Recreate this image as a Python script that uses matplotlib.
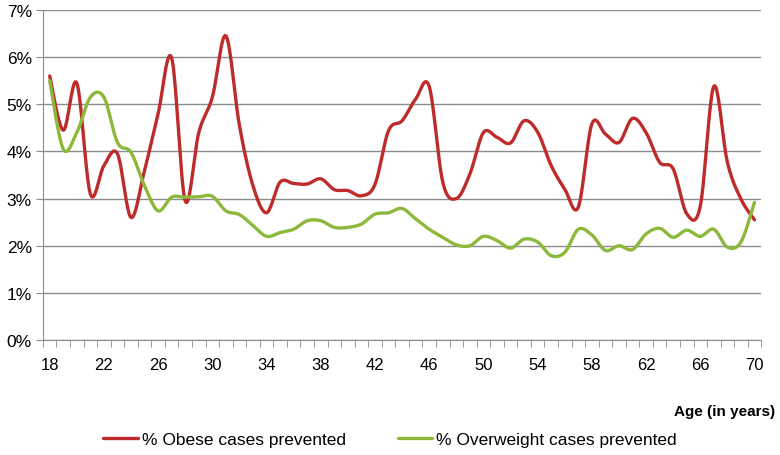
import numpy as np
import matplotlib
matplotlib.use('Agg')
import matplotlib.pyplot as plt
from matplotlib import font_manager
from matplotlib.ticker import MultipleLocator, FuncFormatter

# ages 18..70
ages = list(range(18, 71))

obese = [5.6, 4.45, 5.45, 3.1, 3.7, 3.95, 2.6, 3.6, 4.8, 5.98,
         2.95, 4.4, 5.15, 6.45, 4.55, 3.27, 2.7, 3.35, 3.32, 3.31,
         3.42, 3.19, 3.17, 3.06, 3.3, 4.44, 4.65, 5.11, 5.38, 3.35,
         3.0, 3.52, 4.4, 4.3, 4.18, 4.65, 4.41, 3.7, 3.2, 2.82,
         4.58, 4.37, 4.19, 4.7, 4.4, 3.77, 3.63, 2.68, 2.84, 5.38,
         3.77, 2.99, 2.55]

overweight = [5.5, 4.05, 4.4, 5.15, 5.15, 4.19, 3.98, 3.27, 2.74, 3.03,
              3.03, 3.04, 3.05, 2.74, 2.66, 2.43, 2.2, 2.28, 2.35, 2.53,
              2.53, 2.39, 2.39, 2.46, 2.67, 2.7, 2.79, 2.57, 2.35, 2.18,
              2.02, 2.0, 2.2, 2.11, 1.95, 2.14, 2.08, 1.79, 1.86, 2.35,
              2.23, 1.9, 2.0, 1.92, 2.25, 2.37, 2.18, 2.33, 2.2, 2.35,
              1.97, 2.08, 2.92]

labels = ['% Obese cases prevented', '% Overweight cases prevented']
colors = ['#BE2B2B', '#8DB83A']

# pick a condensed font similar to Calibri if there is one
names = {f.name for f in font_manager.fontManager.ttflist}
fam = 'Liberation Sans Narrow' if 'Liberation Sans Narrow' in names else 'Liberation Sans'
plt.rcParams['font.family'] = [fam, 'DejaVu Sans']


def smooth(x, y, n=20):
    # Excel-style smoothed line (Bezier through the points)
    p = np.column_stack([x, y]).astype(float)
    p = np.vstack([p[0], p, p[-1]])
    out = []
    t = np.linspace(0, 1, n, endpoint=False)[:, None]
    for i in range(1, len(p) - 2):
        p0, p1, p2, p3 = p[i - 1], p[i], p[i + 1], p[i + 2]
        c1 = p1 + (p2 - p0) / 6
        c2 = p2 - (p3 - p1) / 6
        seg = ((1 - t) ** 3) * p1 + 3 * ((1 - t) ** 2) * t * c1 + 3 * (1 - t) * t ** 2 * c2 + t ** 3 * p2
        out.append(seg)
    out.append(p[-2][None, :])
    out = np.vstack(out)
    return out[:, 0], out[:, 1]


fig = plt.figure(figsize=(7.8, 4.56), dpi=100)
ax = fig.add_axes([0.055, 0.252, 0.921, 0.724])

for vals, lab, col in zip([obese, overweight], labels, colors):
    sx, sy = smooth(ages, vals)
    ax.plot(sx, sy, color=col, lw=2.4, label=lab, solid_capstyle='round', zorder=3)

ax.set_xlim(17.5, 70.5)
ax.set_ylim(0, 7)
ax.set_xticks(list(range(18, 71, 4)))
ax.set_xticks(np.arange(17.5, 71, 1), minor=True)
ax.yaxis.set_major_locator(MultipleLocator(1))
ax.yaxis.set_major_formatter(FuncFormatter(lambda v, p: f'{int(round(v))}%'))
ax.grid(axis='y', color='#8C8C8C', lw=1)
ax.set_axisbelow(True)

for s in ['top', 'right']:
    ax.spines[s].set_visible(False)
for s in ['left', 'bottom']:
    ax.spines[s].set_color('#8C8C8C')
ax.tick_params(axis='x', which='major', length=0, pad=12, labelsize=12)
ax.tick_params(axis='x', which='minor', length=5, color='#8C8C8C', direction='out')
ax.tick_params(axis='y', length=5, color='#8C8C8C', labelsize=12.5, pad=3)

fig.text(0.994, 0.097, 'Age (in years)', ha='right', va='center',
         fontsize=11, fontweight='bold')

fig.legend(loc='center', bbox_to_anchor=(0.5, 0.035), ncol=2, frameon=False,
           fontsize=12.5, handlelength=2.0, handletextpad=0.2, columnspacing=3.0)

fig.savefig('out.png', dpi=100)
